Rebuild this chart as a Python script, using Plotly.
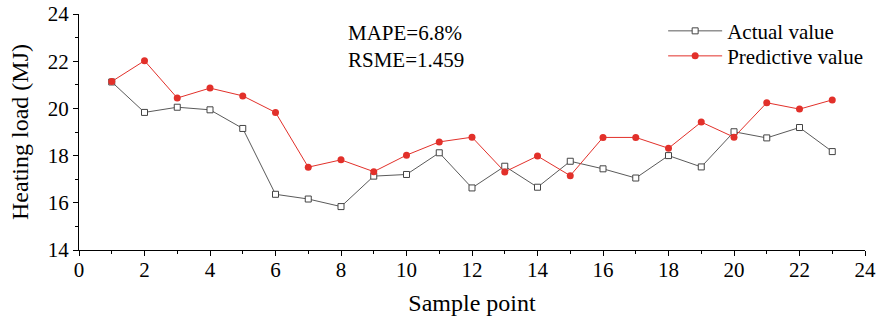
import plotly.graph_objects as go

sample_points = list(range(1, 24))
actual_value = [21.12, 19.83, 20.05, 19.94, 19.15, 16.36, 16.16, 15.84, 17.13, 17.20,
                18.12, 16.63, 17.55, 16.66, 17.76, 17.44, 17.05, 18.00, 17.52, 19.01,
                18.75, 19.19, 18.17]
predictive_value = [21.14, 22.02, 20.44, 20.86, 20.53, 19.83, 17.51, 17.82, 17.32, 18.02,
                    18.58, 18.78, 17.31, 17.98, 17.15, 18.77, 18.77, 18.31, 19.42, 18.78,
                    20.24, 19.97, 20.36]
metric_texts = ["MAPE=6.8%", "RSME=1.459"]

FONT = "Liberation Serif, Times New Roman, serif"

fig = go.Figure()
fig.add_trace(go.Scatter(
    x=sample_points, y=actual_value, mode="lines+markers", name="Actual value",
    line=dict(color="#5a5a5a", width=1),
    marker=dict(symbol="square", size=6, color="white", line=dict(width=1, color="#444444")),
    legend="legend",
))
fig.add_trace(go.Scatter(
    x=sample_points, y=predictive_value, mode="lines+markers", name="Predictive value",
    line=dict(color="#e2302a", width=1),
    marker=dict(symbol="circle", size=7, color="#e2302a"),
    legend="legend2",
))

axis_common = dict(
    showline=True, linecolor="black", linewidth=1, mirror=False,
    ticks="outside", ticklen=5, tickcolor="black", tickwidth=1,
    showgrid=False, zeroline=False, automargin=False,
    ticklabeloverflow="allow",
    tickfont=dict(family=FONT, size=21, color="black"),
)

fig.update_xaxes(
    range=[0, 24], tickmode="linear", tick0=0, dtick=2,
    minor=dict(dtick=1, ticks="outside", ticklen=3, tickcolor="black"),
    ticklabelstandoff=-4,
    title=dict(text="Sample point", font=dict(family=FONT, size=24, color="black"), standoff=12),
    **axis_common,
)
fig.update_yaxes(
    range=[14, 24], tickmode="linear", tick0=14, dtick=2,
    minor=dict(dtick=1, ticks="outside", ticklen=3, tickcolor="black"),
    title=dict(text="Heating load (MJ)", font=dict(family=FONT, size=24, color="black"), standoff=12),
    **axis_common,
)

fig.add_annotation(x=0.340, y=0.921, xref="paper", yref="paper", text=metric_texts[0],
                   showarrow=False, xanchor="left", yanchor="middle",
                   font=dict(family=FONT, size=21, color="black"))
fig.add_annotation(x=0.340, y=0.806, xref="paper", yref="paper", text=metric_texts[1],
                   showarrow=False, xanchor="left", yanchor="middle",
                   font=dict(family=FONT, size=21, color="black"))

legend_style = dict(xanchor="left", yanchor="top", bgcolor="rgba(0,0,0,0)",
                    font=dict(family=FONT, size=21, color="black"), itemwidth=54)

fig.update_layout(
    width=878, height=320,
    margin=dict(l=78.5, r=13, t=14.3, b=70, autoexpand=False),
    plot_bgcolor="white", paper_bgcolor="white",
    font=dict(family=FONT, color="black"),
    legend=dict(x=0.7432, y=1.014, **legend_style),
    legend2=dict(x=0.7432, y=0.908, **legend_style),
    showlegend=True,
)

fig.write_html("out.html", config={"displayModeBar": False},
               post_script="document.body.style.margin='0';")
